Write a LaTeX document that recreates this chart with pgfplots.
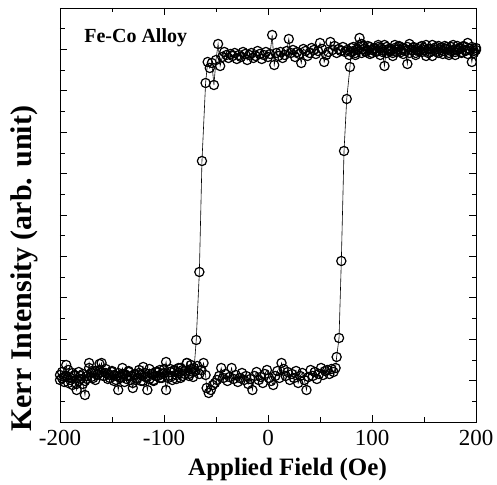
\documentclass[border=0pt]{standalone}
\usepackage{fontspec}
\setmainfont{Liberation Serif}
\usepackage{pgfplots}
\pgfplotsset{compat=1.18}
\begin{document}
\begin{tikzpicture}
\begin{axis}[
  at={(0,0)}, anchor=south west,
  scale only axis, width=416pt, height=414pt,
  xmin=-200, xmax=200, ymin=0, ymax=414,
  xtick={-200,-100,0,100,200},
  minor xtick={-150,-50,50,150},
  ytick={0,41.4,...,414}, minor ytick={20.7,62.1,...,414},
  yticklabels={},
  major tick length=7pt, minor tick length=4.5pt,
  tick style={black, line width=0.7pt},
  axis line style={line width=0.9pt},
  /pgf/number format/assume math mode=true,
  xticklabel style={font=\fontsize{23}{27}\selectfont, yshift=-5pt},
  xlabel={Applied Field (Oe)},
  ylabel={Kerr Intensity (arb. unit)},
  xlabel style={font=\fontsize{25}{30}\selectfont\bfseries, at={(axis description cs:0.547,0)}, anchor=base, yshift=-54pt},
  ylabel style={font=\fontsize{30}{34}\selectfont\bfseries, at={(axis description cs:-0.0673,0.37)}, anchor=base},
  clip=false,
]
\addplot[black, line width=0.6pt, mark=o, mark size=4.6pt, mark options={line width=1.2pt}] coordinates {
(200,374)(198,371)(196,360)(194,373)(192,379)(190,372)(188,375)(186,369)(184,373)(182,376)
(180,370)(178,372)(176,375)(174,367)(172,373)(170,376)(168,371)(166,374)(164,369)(162,375)
(160,372)(158,377)(156,370)(154,373)(152,366)(150,374)(148,376)(146,371)(144,373)(142,369)
(140,375)(138,372)(136,378)(134,358)(132,371)(130,374)(128,370)(126,375)(124,372)(122,377)
(120,369)(118,373)(116,371)(114,375)(112,356)(110,370)(108,374)(106,377)(104,371)(102,373)
(100,369)(98,375)(96,372)(94,370)(92,376)(90,378)(88,384)(86,373)(84,369)(82,371)
(80,374)(78,367)(76,372)(74,370)(72,375)(70,371)(68,373)(66,369)(64,376)(62,372)
(60,380)(58,370)(56,367)(54,360)(52,373)(50,379)(48,371)(46,368)(44,372)(42,374)
(40,369)(38,366)(36,371)(34,373)(32,359)(30,368)(28,370)(26,365)(24,372)(22,369)
(20,383)(18,371)(16,367)(14,364)(12,370)(10,366)(8,369)(6,357)(4,387)(2,368)
(0,365)(-2,370)(-4,367)(-6,363)(-8,368)(-10,371)(-12,366)(-14,364)(-16,369)(-18,367)
(-20,362)(-22,368)(-24,370)(-26,365)(-28,367)(-30,363)(-32,369)(-34,366)(-36,368)(-38,364)
(-40,367)(-42,370)(-44,365)(-46,356)(-48,378)(-50,362)(-52,337)(-54,359)(-56,354)(-58,360)
(-60,339)(-63.5,261)(-66,150)(-69,82)(-71,54)
(-72,50)(-74,57)(-76,46)(-78,59)(-80,48)(-82,52)(-84,44)(-86,54)(-88,47)(-90,51)
(-92,42)(-94,53)(-96,46)(-98,60)(-100,49)(-102,44)(-104,52)(-106,46)(-108,50)(-110,42)
(-112,48)(-114,53)(-116,45)(-118,49)(-120,41)(-122,47)(-124,52)(-126,44)(-128,48)(-130,39)
(-132,46)(-134,51)(-136,43)(-138,48)(-140,54)(-142,45)(-144,49)(-146,42)(-148,47)(-150,51)
(-152,44)(-154,48)(-156,53)(-158,46)(-160,50)(-162,58)(-164,47)(-166,51)(-168,44)(-170,49)
(-172,54)(-174,46)(-176,41)(-178,48)(-180,43)(-182,50)(-184,38)(-186,46)(-188,49)(-190,42)
(-192,52)(-194,46)(-196,40)(-198,44)(-200,47)
};
\addplot[black, line width=0.6pt, mark=o, mark size=4.6pt, mark options={line width=1.2pt}] coordinates {
(-200,42)(-198,50)(-196,45)(-194,57)(-192,39)(-190,44)(-188,37)(-186,47)(-184,32)(-182,41)
(-180,46)(-178,38)(-176,27)(-174,43)(-172,59)(-170,45)(-168,50)(-166,42)(-164,48)(-162,52)
(-160,59)(-158,46)(-156,49)(-154,43)(-152,47)(-150,50)(-148,41)(-146,46)(-144,32)(-142,44)
(-140,48)(-138,40)(-136,46)(-134,50)(-132,42)(-130,34)(-128,47)(-126,43)(-124,49)(-122,41)
(-120,55)(-118,45)(-116,32)(-114,43)(-112,48)(-110,41)(-108,46)(-106,50)(-104,44)(-102,48)
(-100,53)(-98,32)(-96,44)(-94,50)(-92,46)(-90,52)(-88,43)(-86,49)(-84,54)(-82,46)
(-80,51)(-78,59)(-76,48)(-74,53)(-72,45)(-70,51)(-68,56)(-66,48)(-64,52)(-62,59)(-60,47)
(-59,34)(-57,29)(-55,32)(-53,37)(-51,39)(-49,42)(-47,46)(-45,54)(-43,44)(-41,48)
(-39,41)(-37,45)(-35,54)(-33,43)(-31,47)(-29,40)(-27,44)(-25,49)(-23,42)(-21,46)
(-19,38)(-17,43)(-15,32)(-13,46)(-11,50)(-9,42)(-7,45)(-5,39)(-3,48)(-1,52)
(1,44)(3,41)(5,37)(7,46)(9,51)(11,44)(13,59)(15,53)(17,46)(19,50)
(21,42)(23,48)(25,44)(27,51)(29,39)(31,46)(33,49)(35,42)(37,32)(39,45)
(41,52)(43,46)(45,50)(47,43)(49,48)(51,54)(53,47)(55,51)(57,52)(59,48)
(61,53)(63,50)(65,54)(66,65)(68.3,84)(70.5,161)(73.1,271)(75.7,323)(78.8,355)
(80,370)(82,375)(84,367)(86,372)(88,377)(90,369)(92,373)(94,371)(96,376)(98,368)
(100,372)(102,374)(104,370)(106,375)(108,367)(110,372)(112,377)(114,369)(116,373)(118,371)
(120,366)(122,374)(124,370)(126,376)(128,372)(130,368)(132,373)(134,375)(136,369)(138,372)
(140,374)(142,367)(144,371)(146,375)(148,370)(150,372)(152,377)(154,369)(156,373)(158,366)
(160,374)(162,370)(164,376)(166,372)(168,368)(170,373)(172,375)(174,369)(176,371)(178,377)
(180,367)(182,372)(184,374)(186,370)(188,376)(190,371)(192,368)(194,373)(196,375)(198,369)
(200,372)
};
\node[anchor=base west, font=\fontsize{20}{24}\selectfont\bfseries] at (axis cs:-180,379) {Fe-Co Alloy};
\end{axis}
\path (-60pt,-62pt) rectangle (437pt,422pt);
\end{tikzpicture}
\end{document}
